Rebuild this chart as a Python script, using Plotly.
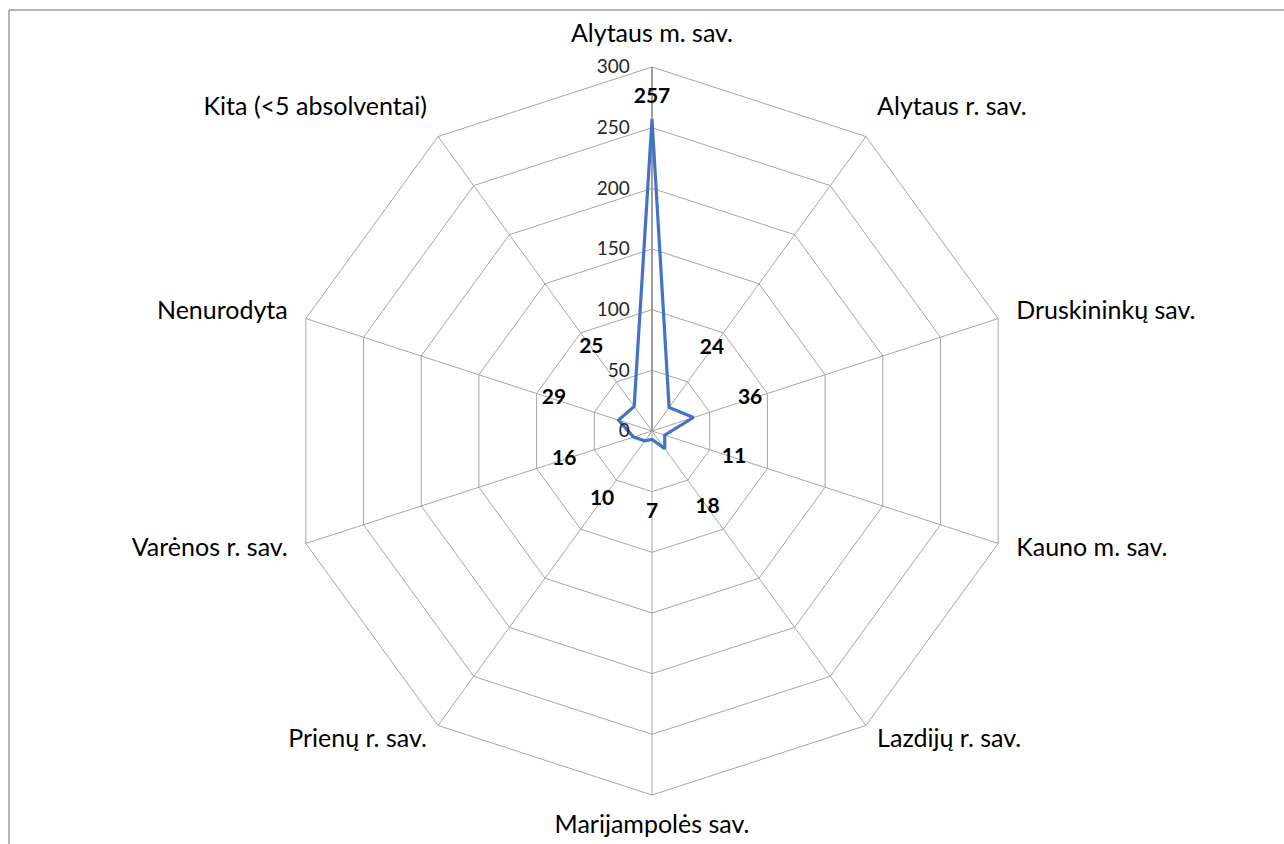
import math
import plotly.graph_objects as go

# Savivaldybės (clockwise from the top) and graduates count
categories = [
    "Alytaus m. sav.",
    "Alytaus r. sav.",
    "Druskininkų sav.",
    "Kauno m. sav.",
    "Lazdijų r. sav.",
    "Marijampolės sav.",
    "Prienų r. sav.",
    "Varėnos r. sav.",
    "Nenurodyta",
    "Kita (&lt;5 absolventai)",
]
values = [257, 24, 36, 11, 18, 7, 10, 16, 29, 25]
radial_ticks = [0, 50, 100, 150, 200, 250, 300]

FONT = "Lato, 'Open Sans', sans-serif"
GRID = "#a6a6a6"
RMAX = 300
RVIEW = 330  # extra room so the category labels are not dropped

W, H = 1284, 844
cx, cy, rad = 652, 431, 364  # centre and px radius of the 300 ring
rad_view = rad * RVIEW / RMAX


def label_r(v):
    # push data labels away from the line a bit
    if v > 100:
        return v + 18
    return min(v + 60, 85)


def cat_textpos(i, n):
    a = math.radians(360 * i / n)
    s, c = math.sin(a), math.cos(a)
    v = "top" if c > 0.5 else ("bottom" if c < -0.95 else "middle")
    h = "right" if s > 0.3 else ("left" if s < -0.3 else "center")
    return v + " " + h


fig = go.Figure()

# spokes from the centre to the outer ring
spoke_r, spoke_t = [], []
for c in categories:
    spoke_r += [0, RMAX, None]
    spoke_t += [c, c, c]
fig.add_trace(
    go.Scatterpolar(
        r=spoke_r, theta=spoke_t, mode="lines",
        line=dict(color=GRID, width=1), hoverinfo="skip", showlegend=False,
    )
)
# value axis (top spoke), a bit darker
fig.add_trace(
    go.Scatterpolar(
        r=[0, RMAX], theta=[categories[0]] * 2, mode="lines",
        line=dict(color="#8c8c8c", width=1.5), hoverinfo="skip", showlegend=False,
    )
)

# closed outline
fig.add_trace(
    go.Scatterpolar(
        r=values + values[:1],
        theta=categories + categories[:1],
        mode="lines",
        line=dict(color="#4472C4", width=3.2),
        hoverinfo="skip",
        showlegend=False,
    )
)

# data labels
fig.add_trace(
    go.Scatterpolar(
        r=[label_r(v) for v in values],
        theta=categories,
        mode="text",
        text=[str(v) for v in values],
        textfont=dict(family=FONT, size=21, color="#000000", weight="bold"),
        hoverinfo="skip",
        showlegend=False,
    )
)

# category labels just outside the outer polygon
fig.add_trace(
    go.Scatterpolar(
        r=[RMAX * (1 + 19 / rad)] * len(categories),
        theta=categories,
        mode="text",
        text=categories,
        textposition=[cat_textpos(i, len(categories)) for i in range(len(categories))],
        textfont=dict(family=FONT, size=25, color="#000000"),
        cliponaxis=False,
        hoverinfo="skip",
        showlegend=False,
    )
)

fig.update_layout(
    width=W,
    height=H,
    margin=dict(l=0, r=0, t=0, b=0),
    paper_bgcolor="white",
    font=dict(family=FONT, size=20, color="#000000"),
    polar=dict(
        domain=dict(
            x=[(cx - rad_view) / W, (cx + rad_view) / W],
            y=[1 - (cy + rad_view) / H, 1 - (cy - rad_view) / H],
        ),
        bgcolor="rgba(0,0,0,0)",
        gridshape="linear",
        angularaxis=dict(
            type="category",
            categoryorder="array",
            categoryarray=categories,
            direction="clockwise",
            rotation=90,
            showline=False,
            showgrid=False,
            ticks="",
            showticklabels=False,
        ),
        radialaxis=dict(
            range=[0, RVIEW],
            tickvals=radial_ticks,
            angle=90,
            tickangle=90,
            side="counterclockwise",
            showline=False,
            gridcolor=GRID,
            gridwidth=1,
            ticks="outside",
            ticklen=15,
            tickcolor="rgba(0,0,0,0)",
            tickfont=dict(family=FONT, size=19, color="#262626"),
        ),
    ),
    shapes=[
        dict(type="line", xref="paper", yref="paper", x0=9 / W, x1=1, y0=1 - 10 / H, y1=1 - 10 / H,
             line=dict(color="#9b9b9b", width=1.5)),
        dict(type="line", xref="paper", yref="paper", x0=9 / W, x1=9 / W, y0=0, y1=1 - 10 / H,
             line=dict(color="#9b9b9b", width=1.5)),
    ],
)

fig.write_html(
    "out.html",
    config={"displayModeBar": False},
    post_script="document.body.style.margin='0';",
)
